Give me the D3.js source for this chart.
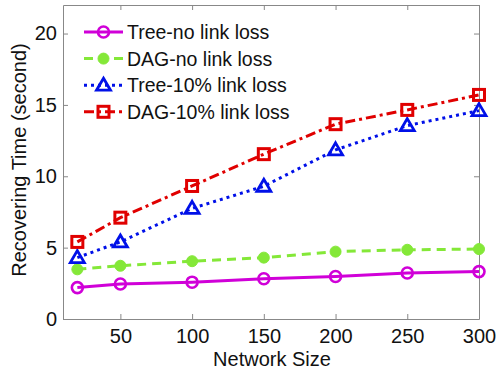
<!DOCTYPE html>
<html>
<head>
<meta charset="utf-8">
<script src="https://cdn.jsdelivr.net/npm/d3@7"></script>
<style>
    body { margin: 0; background: #fff; }
    svg text { font-family: "Liberation Sans", Arial, sans-serif; fill: #111; }
</style>
</head>
<body>
<svg id="chart" width="496" height="375"></svg>
<script>
var sizes = [20, 50, 100, 150, 200, 250, 300];
var treeNoLoss = [2.2, 2.45, 2.58, 2.82, 2.98, 3.22, 3.32];
var dagNoLoss = [3.48, 3.73, 4.05, 4.3, 4.72, 4.85, 4.9];
var tree10Loss = [4.3, 5.4, 7.75, 9.3, 11.85, 13.55, 14.6];
var dag10Loss = [5.4, 7.1, 9.32, 11.55, 13.65, 14.65, 15.7];
var xTicks = [50, 100, 150, 200, 250, 300];
var yTicks = [0, 5, 10, 15, 20];

var series = [
    { name: "Tree-no link loss", values: treeNoLoss, color: "#d000d8", dash: null, marker: "circle" },
    { name: "DAG-no link loss", values: dagNoLoss, color: "#84e838", dash: "9,6", marker: "dot" },
    { name: "Tree-10% link loss", values: tree10Loss, color: "#0010e8", dash: "3,4", marker: "triangle" },
    { name: "DAG-10% link loss", values: dag10Loss, color: "#e00000", dash: "10,4,3,4", marker: "square" }
];

var margin = { top: 5, right: 17, bottom: 56, left: 63 };
var width = 496 - margin.left - margin.right;
var height = 375 - margin.top - margin.bottom;

var svg = d3.select("#chart");
var g = svg.append("g").attr("transform", "translate(" + margin.left + "," + margin.top + ")");

var x = d3.scaleLinear().domain([10, 300]).range([0, width]);
var y = d3.scaleLinear().domain([0, 22]).range([height, 0]);

// axes with inward ticks, box style
function styleAxis(sel) {
    sel.select(".domain").attr("stroke", "#888");
    sel.selectAll(".tick line").attr("stroke", "#888");
    sel.selectAll(".tick text").style("font-size", "20px").attr("fill", "#111");
}
g.append("g").attr("transform", "translate(0," + height + ")")
    .call(d3.axisBottom(x).tickValues(xTicks).tickSizeInner(-5).tickSizeOuter(0).tickPadding(10))
    .call(styleAxis);
g.append("g")
    .call(d3.axisLeft(y).tickValues(yTicks).tickSizeInner(-5).tickSizeOuter(0).tickPadding(6))
    .call(styleAxis);
g.append("g")
    .call(d3.axisTop(x).tickValues(xTicks).tickSizeInner(-5).tickSizeOuter(0).tickFormat(""))
    .call(styleAxis);
g.append("g").attr("transform", "translate(" + width + ",0)")
    .call(d3.axisRight(y).tickValues(yTicks).tickSizeInner(-5).tickSizeOuter(0).tickFormat(""))
    .call(styleAxis);

svg.append("text")
    .attr("x", margin.left + width / 2 + 1).attr("y", 366)
    .attr("text-anchor", "middle").style("font-size", "20px")
    .text("Network Size");
svg.append("text")
    .attr("transform", "translate(26," + 160 + ") rotate(-90)")
    .attr("text-anchor", "middle").style("font-size", "20px")
    .text("Recovering Time (second)");

function drawMarker(sel, s) {
    if (s.marker === "circle") {
        sel.append("circle").attr("r", 5.5).attr("fill", "none").attr("stroke", s.color).attr("stroke-width", 2.6);
    } else if (s.marker === "dot") {
        sel.append("circle").attr("r", 5.5).attr("fill", s.color).attr("stroke", s.color).attr("stroke-width", 1);
    } else if (s.marker === "triangle") {
        sel.append("path").attr("d", "M0,-7L7,5L-7,5Z").attr("fill", "none").attr("stroke", s.color).attr("stroke-width", 2.8);
    } else {
        sel.append("rect").attr("x", -5.5).attr("y", -5.5).attr("width", 11).attr("height", 11)
            .attr("fill", "none").attr("stroke", s.color).attr("stroke-width", 3);
    }
}

var line = d3.line().x(function (d) { return x(d[0]); }).y(function (d) { return y(d[1]); });

series.forEach(function (s) {
    var pts = sizes.map(function (v, i) { return [v, s.values[i]]; });
    g.append("path").datum(pts)
        .attr("d", line)
        .attr("fill", "none")
        .attr("stroke", s.color)
        .attr("stroke-width", 3)
        .attr("stroke-dasharray", s.dash);
    g.selectAll(null).data(pts).enter().append("g")
        .attr("transform", function (d) { return "translate(" + x(d[0]) + "," + y(d[1]) + ")"; })
        .each(function () { drawMarker(d3.select(this), s); });
});

// legend
var legend = svg.append("g").attr("transform", "translate(84,32)");
series.forEach(function (s, i) {
    var row = legend.append("g").attr("transform", "translate(0," + (i * 26.6) + ")");
    row.append("line").attr("x1", 0).attr("x2", 39).attr("y1", 0).attr("y2", 0)
        .attr("stroke", s.color).attr("stroke-width", 3).attr("stroke-dasharray", s.dash);
    drawMarker(row.append("g").attr("transform", "translate(19.5,0)"), s);
    row.append("text").attr("x", 43).attr("y", 7).style("font-size", "19.5px").text(s.name);
});
</script>
</body>
</html>
